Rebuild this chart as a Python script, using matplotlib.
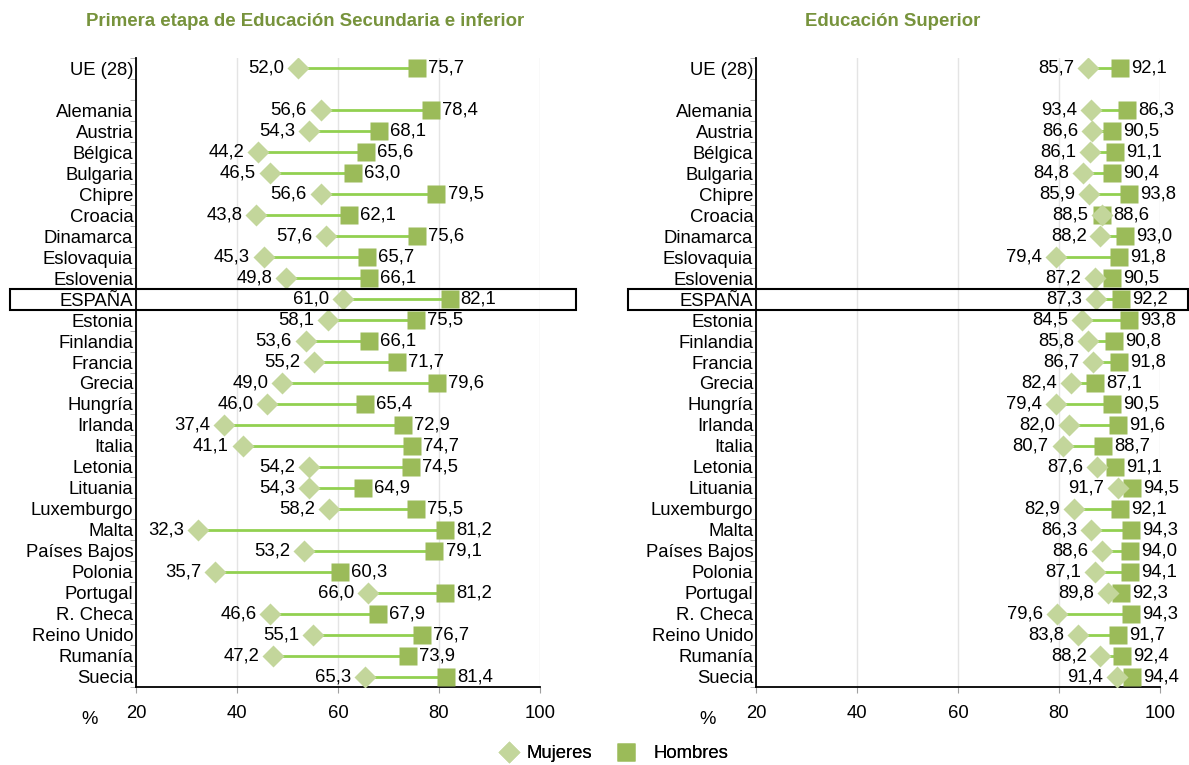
import numpy as np
import matplotlib.pyplot as plt
from matplotlib.lines import Line2D
from matplotlib.patches import Rectangle
import matplotlib.transforms as mtransforms

plt.rcParams['font.family'] = ['Liberation Sans', 'DejaVu Sans']

paises = ['UE (28)', '', 'Alemania', 'Austria', 'Bélgica', 'Bulgaria', 'Chipre', 'Croacia',
          'Dinamarca', 'Eslovaquia', 'Eslovenia', 'ESPAÑA', 'Estonia', 'Finlandia', 'Francia',
          'Grecia', 'Hungría', 'Irlanda', 'Italia', 'Letonia', 'Lituania', 'Luxemburgo', 'Malta',
          'Países Bajos', 'Polonia', 'Portugal', 'R. Checa', 'Reino Unido', 'Rumanía', 'Suecia']

# Primera etapa de Educación Secundaria e inferior
muj_sec = [52.0, np.nan, 56.6, 54.3, 44.2, 46.5, 56.6, 43.8, 57.6, 45.3, 49.8, 61.0, 58.1, 53.6,
           55.2, 49.0, 46.0, 37.4, 41.1, 54.2, 54.3, 58.2, 32.3, 53.2, 35.7, 66.0, 46.6, 55.1,
           47.2, 65.3]
hom_sec = [75.7, np.nan, 78.4, 68.1, 65.6, 63.0, 79.5, 62.1, 75.6, 65.7, 66.1, 82.1, 75.5, 66.1,
           71.7, 79.6, 65.4, 72.9, 74.7, 74.5, 64.9, 75.5, 81.2, 79.1, 60.3, 81.2, 67.9, 76.7,
           73.9, 81.4]

# Educación Superior
muj_sup = [85.7, np.nan, 93.4, 86.6, 86.1, 84.8, 85.9, 88.5, 88.2, 79.4, 87.2, 87.3, 84.5, 85.8,
           86.7, 82.4, 79.4, 82.0, 80.7, 87.6, 91.7, 82.9, 86.3, 88.6, 87.1, 89.8, 79.6, 83.8,
           88.2, 91.4]
hom_sup = [92.1, np.nan, 86.3, 90.5, 91.1, 90.4, 93.8, 88.6, 93.0, 91.8, 90.5, 92.2, 93.8, 90.8,
           91.8, 87.1, 90.5, 91.6, 88.7, 91.1, 94.5, 92.1, 94.3, 94.0, 94.1, 92.3, 94.3, 91.7,
           92.4, 94.4]
# en el original las etiquetas de Alemania van cruzadas respecto a los marcadores
cruzados_sup = ['Alemania']

c_muj = '#C3D69B'
c_hom = '#9BBB59'
c_lin = '#92D050'
c_tit = '#77933C'

fig = plt.figure(figsize=(11.89, 7.65), dpi=100)
W, H = 1189, 765
fs = 13.3


def panel(x0, muj, hom, cruzados, rect_x):
    ax = fig.add_axes([x0 / W, 1 - 687 / H, 404 / W, 629 / H])
    y = np.arange(len(paises))
    pm = np.array(muj, dtype=float)
    ph = np.array(hom, dtype=float)
    for c in cruzados:
        i = paises.index(c)
        pm[i], ph[i] = ph[i], pm[i]
    ax.hlines(y, pm, ph, color=c_lin, lw=2, zorder=2)
    ax.plot(ph, y, 's', color=c_hom, ms=13.5, mec='none', zorder=3)
    ax.plot(pm, y, 'D', color=c_muj, ms=11.5, mec='none', zorder=4)
    for i in range(len(paises)):
        if np.isnan(muj[i]):
            continue
        ax.annotate(f'{muj[i]:.1f}'.replace('.', ','), (pm[i], y[i]), xytext=(-10, 0),
                    textcoords='offset points', ha='right', va='center', fontsize=fs)
        ax.annotate(f'{hom[i]:.1f}'.replace('.', ','), (ph[i], y[i]), xytext=(8, 0),
                    textcoords='offset points', ha='left', va='center', fontsize=fs)
    ax.set_xlim(20, 100)
    ax.set_ylim(len(paises) - 0.5, -0.5)
    ax.set_yticks(y)
    ax.set_yticklabels(paises, fontsize=fs)
    ax.set_yticks(np.arange(-0.5, len(paises), 1), minor=True)
    ax.tick_params(axis='y', which='major', length=0, pad=2)
    ax.tick_params(axis='y', which='minor', length=4, color='#A0A0A0')
    ax.set_xticks([20, 40, 60, 80, 100])
    ax.tick_params(axis='x', length=4, color='#A0A0A0', labelsize=fs, pad=9)
    ax.grid(axis='x', color='#E4E4E4', lw=1)
    ax.set_axisbelow(True)
    for s in ['top', 'right']:
        ax.spines[s].set_visible(False)
    for s in ['left', 'bottom']:
        ax.spines[s].set_color('black')
        ax.spines[s].set_linewidth(1.3)
    i = paises.index('ESPAÑA')
    tr = mtransforms.blended_transform_factory(fig.transFigure, ax.transData)
    ax.add_patch(Rectangle((rect_x[0] / W, i - 0.5), (rect_x[1] - rect_x[0]) / W, 1,
                           transform=tr, fill=False, ec='black', lw=1.5, clip_on=False,
                           zorder=5))
    return ax


panel(136, muj_sec, hom_sec, [], (10, 576))
panel(756, muj_sup, hom_sup, cruzados_sup, (628, 1188))

fig.text(305 / W, 1 - 22 / H, 'Primera etapa de Educación Secundaria e inferior',
         ha='center', va='center', fontsize=13.4, fontweight='bold', color=c_tit)
fig.text(893 / W, 1 - 22 / H, 'Educación Superior',
         ha='center', va='center', fontsize=13.4, fontweight='bold', color=c_tit)
fig.text(90 / W, 1 - 719 / H, '%', ha='center', va='center', fontsize=fs)
fig.text(708 / W, 1 - 719 / H, '%', ha='center', va='center', fontsize=fs)

h_muj = Line2D([], [], ls='none', marker='D', color=c_muj, ms=11.5, mec='none')
h_hom = Line2D([], [], ls='none', marker='s', color=c_hom, ms=13.5, mec='none')
for h, lab, x, pad in [(h_muj, 'Mujeres', 500, 0.44), (h_hom, 'Hombres', 617, 1.0)]:
    leg = fig.legend([h], [lab], loc='center left', frameon=False,
                     bbox_to_anchor=(x / W, 1 - 754 / H), fontsize=fs, borderpad=0,
                     borderaxespad=0, handlelength=1.0, handletextpad=pad)
    fig.add_artist(leg)

fig.savefig('out.png', dpi=100)
